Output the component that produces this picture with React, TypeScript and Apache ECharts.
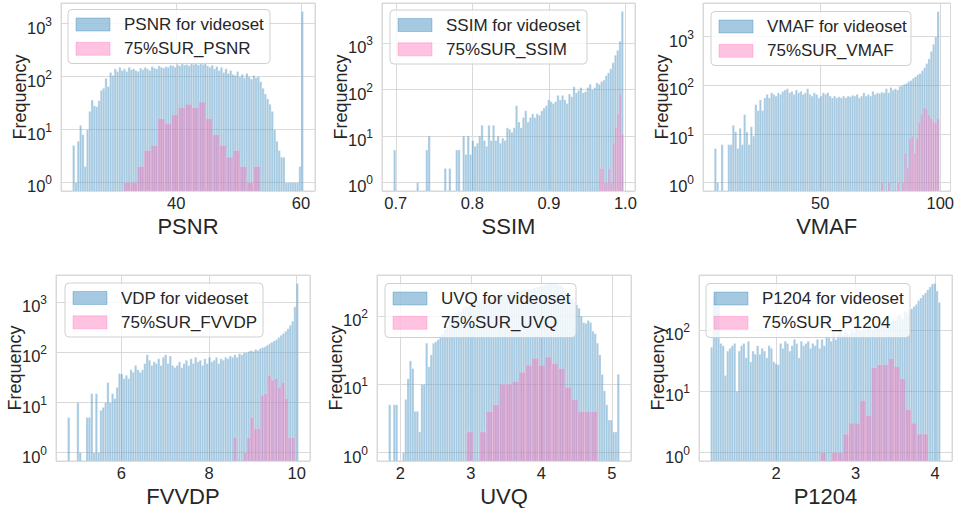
import React, { useEffect, useRef } from 'react';
import * as echarts from 'echarts';

// ---------------- data (histogram counts) ----------------
const PSNR_BLUE_RANGE = [23.4, 60.4];
const PSNR_BLUE = [
  5, 1, 6, 12, 8, 2, 10, 22, 36, 28,
  27, 35, 55, 60, 93, 65, 120, 105, 140, 125,
  150, 130, 140, 125, 150, 135, 140, 130, 125, 145,
  135, 150, 140, 130, 155, 145, 140, 160, 150, 145,
  155, 150, 165, 160, 150, 170, 160, 175, 165, 170,
  160, 175, 170, 180, 165, 175, 170, 180, 160, 150,
  165, 140, 155, 130, 150, 120, 140, 115, 130, 110,
  105, 125, 100, 110, 95, 115, 100, 90, 105, 95,
  100, 80, 60, 47, 38, 30, 22, 10, 6, 4,
  3, 3, 1, 1, 1, 1, 1, 1, 2, 1700,
];
const PSNR_PINK_RANGE = [31.6, 53.5];
const PSNR_PINK = [1, 1, 2, 4, 5, 16, 13, 19, 26, 30, 26, 33, 16, 8, 5, 3, 4, 2, 1, 2];

const SSIM_BLUE_RANGE = [0.697, 0.9975];
const SSIM_BLUE = [
  5, 0, 0, 0, 0, 0, 0, 0, 0, 0,
  1, 0, 0, 0, 5, 10, 0, 0, 0, 0,
  0, 0, 2, 0, 2, 0, 0, 5, 5, 0,
  10, 4, 10, 4, 8, 6, 7, 10, 17, 8,
  6, 17, 8, 17, 8, 10, 7, 9, 8, 15,
  14, 12, 15, 45, 20, 15, 25, 35, 20, 25,
  30, 25, 30, 28, 35, 40, 45, 60, 55, 50,
  55, 75, 60, 75, 60, 50, 80, 70, 115, 85,
  95, 110, 85, 90, 110, 130, 100, 110, 140, 130,
  150, 160, 200, 230, 280, 380, 550, 700, 1100, 4800,
];
const SSIM_PINK_RANGE = [0.9658, 0.9976];
const SSIM_PINK = [2, 2, 1, 1, 2, 1, 7, 15, 30, 80, 11];

const VMAF_BLUE_RANGE = [5.9, 99.6];
const VMAF_BLUE = [
  5, 1, 0, 6, 0, 0, 6, 6, 15, 11,
  5, 13, 6, 25, 11, 6, 14, 9, 40, 30,
  50, 30, 55, 65, 55, 70, 65, 60, 70, 65,
  75, 80, 85, 70, 75, 65, 80, 70, 75, 65,
  70, 85, 65, 60, 70, 65, 55, 60, 70, 65,
  70, 60, 55, 60, 55, 58, 55, 60, 55, 60,
  58, 62, 60, 65, 55, 60, 70, 60, 65, 60,
  75, 65, 70, 68, 72, 70, 85, 70, 90, 80,
  85, 80, 95, 100, 105, 110, 120, 125, 140, 150,
  165, 175, 200, 230, 280, 350, 500, 700, 1000, 3300,
];
const VMAF_PINK_RANGE = [75.3, 99.6];
const VMAF_PINK = [1, 0, 0, 1, 0, 0, 0, 1, 0, 1, 4, 2, 8, 9, 4, 8, 17, 25, 35, 33, 25, 21, 18, 17, 21];

const FVVDP_BLUE_RANGE = [4.77, 10.04];
const FVVDP_BLUE = [
  5, 0, 0, 0, 10, 1, 0, 0, 5, 5,
  15, 1, 15, 1, 7, 8, 10, 25, 10, 15,
  12, 20, 38, 37, 30, 35, 30, 45, 40, 55,
  45, 40, 45, 60, 90, 70, 55, 65, 60, 75,
  55, 80, 90, 60, 85, 55, 50, 55, 65, 50,
  60, 70, 55, 75, 60, 80, 65, 70, 55, 75,
  60, 80, 65, 70, 80, 60, 75, 70, 80, 75,
  85, 80, 90, 80, 95, 90, 100, 100, 105, 110,
  105, 115, 110, 120, 125, 130, 140, 150, 160, 170,
  180, 200, 220, 240, 265, 300, 350, 420, 820, 2400,
];
const FVVDP_PINK_RANGE = [8.55, 9.96];
const FVVDP_PINK = [2, 0, 0, 1, 2, 5, 3, 3, 14, 15, 35, 28, 30, 20, 25, 12, 2, 2];

const UVQ_BLUE_RANGE = [1.831, 5.107];
const UVQ_BLUE = [
  5, 0, 5, 5, 0, 0, 1, 6, 12, 22,
  17, 4, 4, 2, 10, 10, 40, 18, 27, 40,
  42, 45, 50, 55, 65, 70, 90, 80, 100, 110,
  120, 115, 130, 140, 135, 150, 160, 155, 170, 165,
  180, 175, 185, 190, 180, 200, 195, 210, 200, 215,
  220, 210, 230, 225, 235, 230, 240, 235, 245, 240,
  250, 245, 255, 260, 265, 270, 275, 285, 290, 295,
  300, 290, 295, 285, 280, 260, 240, 220, 200, 180,
  160, 145, 130, 100, 80, 78, 86, 80, 60, 55,
  40, 27, 14, 8, 5, 3, 3, 2, 2, 14,
];
const UVQ_PINK_RANGE = [2.938, 4.795];
const UVQ_PINK = [2, 0, 2, 4, 5, 10, 10, 11, 15, 19, 24, 19, 25, 20, 17, 9, 6, 4, 4, 4];

const P1204_BLUE_RANGE = [1.173, 4.069];
const P1204_BLUE = [
  52, 350, 400, 250, 60, 55, 18, 45, 50, 55,
  60, 10, 45, 55, 60, 35, 65, 30, 45, 40,
  55, 40, 50, 45, 35, 55, 50, 30, 28, 27,
  60, 50, 65, 60, 45, 55, 70, 60, 35, 65,
  55, 60, 65, 50, 60, 55, 70, 50, 70, 55,
  80, 75, 65, 90, 70, 85, 110, 80, 95, 90,
  85, 100, 90, 110, 100, 95, 105, 100, 110, 120,
  100, 115, 110, 130, 120, 140, 125, 115, 135, 150,
  140, 170, 180, 150, 200, 190, 210, 220, 240, 260,
  300, 330, 370, 400, 450, 500, 560, 570, 430, 280,
];
const P1204_PINK_RANGE = [2.557, 3.912];
const P1204_PINK = [1, 0, 1, 1, 2, 3, 3, 7, 4, 24, 27, 27, 34, 25, 16, 5, 3, 2, 2];

const METRICS = ['PSNR', 'SSIM', 'VMAF', 'FVVDP', 'UVQ', 'P1204'];
const BLUE_NAMES = ['PSNR for videoset', 'SSIM for videoset', 'VMAF for videoset', 'VDP for videoset', 'UVQ for videoset', 'P1204 for videoset'];
const PINK_NAMES = ['75%SUR_PSNR', '75%SUR_SSIM', '75%SUR_VMAF', '75%SUR_FVVDP', '75%SUR_UVQ', '75%SUR_P1204'];
const X_TICK_STEP = [20, 0.1, 50, 2, 1, 1];
const X_TICK_DECIMALS = [0, 1, 0, 0, 0, 0];
const BLUE_DATA = [PSNR_BLUE, SSIM_BLUE, VMAF_BLUE, FVVDP_BLUE, UVQ_BLUE, P1204_BLUE];
const BLUE_RANGES = [PSNR_BLUE_RANGE, SSIM_BLUE_RANGE, VMAF_BLUE_RANGE, FVVDP_BLUE_RANGE, UVQ_BLUE_RANGE, P1204_BLUE_RANGE];
const PINK_DATA = [PSNR_PINK, SSIM_PINK, VMAF_PINK, FVVDP_PINK, UVQ_PINK, P1204_PINK];
const PINK_RANGES = [PSNR_PINK_RANGE, SSIM_PINK_RANGE, VMAF_PINK_RANGE, FVVDP_PINK_RANGE, UVQ_PINK_RANGE, P1204_PINK_RANGE];

// ---------------- layout & style ----------------
const BOXES = [
  { left: 61, top: 3, width: 254, height: 188 },
  { left: 382, top: 3, width: 253, height: 188 },
  { left: 703, top: 3, width: 249, height: 188 },
  { left: 56, top: 275, width: 254, height: 189 },
  { left: 377, top: 275, width: 254, height: 189 },
  { left: 699, top: 275, width: 253, height: 189 },
];
const LEGEND_BOXES = [
  { x: 68, y: 9.5, w: 202 },
  { x: 390, y: 10, w: 197 },
  { x: 711, y: 11.5, w: 200 },
  { x: 65, y: 283, w: 198 },
  { x: 385, y: 283.5, w: 191 },
  { x: 706, y: 283.5, w: 204 },
];
const LEGEND_H = 54;
const LEGEND_FONT = 17;
const FONT = '"Liberation Sans", Arial, sans-serif';
const TEXT = '#262626';
const GRID_COLOR = '#d9d9d9';
const BLUE = 'rgba(31,119,180,0.4)';
const PINK = 'rgba(255,105,180,0.4)';

function histData(counts: number[], range: number[]) {
  const [lo, hi] = range;
  const n = counts.length;
  const w = (hi - lo) / n;
  const out: number[][] = [];
  counts.forEach((c, i) => {
    if (c > 0) out.push([lo + w * i, lo + w * (i + 1), c]);
  });
  return out;
}

function histSeries(name: string, counts: number[], range: number[], k: number, fill: string, stroke: string) {
  return {
    type: 'custom',
    name,
    xAxisIndex: k,
    yAxisIndex: k,
    z: 2,
    dimensions: ['x0', 'x1', 'count'],
    encode: { x: [0, 1], y: 2 },
    itemStyle: { color: fill },
    data: histData(counts, range),
    renderItem: (params: any, api: any) => {
      const x0 = api.value(0);
      const x1 = api.value(1);
      const c = api.value(2);
      const p0 = api.coord([x0, c]);
      const p1 = api.coord([x1, c]);
      const cs = params.coordSys;
      const bottom = cs.y + cs.height;
      return {
        type: 'rect',
        shape: { x: p0[0], y: p0[1], width: p1[0] - p0[0], height: bottom - p0[1] },
        style: { fill, stroke, lineWidth: 0.5 },
      };
    },
  };
}

function legendGraphic(k: number) {
  const lb = LEGEND_BOXES[k];
  const rowY = [15, 39.3];
  const names = [BLUE_NAMES[k], PINK_NAMES[k]];
  const fills = [BLUE, PINK];
  const children: any[] = [
    {
      type: 'rect',
      z: 100,
      shape: { x: 0, y: 0, width: lb.w, height: LEGEND_H, r: 4 },
      style: { fill: 'rgba(255,255,255,0.8)', stroke: '#d0d0d0', lineWidth: 1 },
    },
  ];
  names.forEach((nm, j) => {
    children.push({
      type: 'rect',
      z: 101,
      shape: { x: 8, y: rowY[j] - 6.5, width: 34, height: 13 },
      style: { fill: fills[j], stroke: fills[j], lineWidth: 0.8 },
    });
    children.push({
      type: 'text',
      z: 101,
      x: 56,
      y: rowY[j],
      style: { text: nm, fill: TEXT, fontFamily: FONT, fontSize: LEGEND_FONT, verticalAlign: 'middle', align: 'left' },
    });
  });
  return { type: 'group', x: lb.x, y: lb.y, z: 100, silent: true, children };
}

function buildOption() {
  const grid: any[] = [];
  const xAxis: any[] = [];
  const yAxis: any[] = [];
  const series: any[] = [];
  const graphic: any[] = [];
  METRICS.forEach((metric, k) => {
    const box = BOXES[k];
    grid.push({ ...box, show: true, borderColor: GRID_COLOR, borderWidth: 1, backgroundColor: '#ffffff', containLabel: false });
    const [lo, hi] = BLUE_RANGES[k];
    const pad = (hi - lo) * 0.05;
    const step = X_TICK_STEP[k];
    const dec = X_TICK_DECIMALS[k];
    xAxis.push({
      type: 'value',
      gridIndex: k,
      min: lo - pad,
      max: hi + pad,
      minInterval: step,
      maxInterval: step,
      name: metric,
      nameLocation: 'middle',
      nameGap: 24,
      nameMoveOverlap: false,
      nameTextStyle: { fontFamily: FONT, fontSize: 22, lineHeight: 22, color: TEXT },
      axisLine: { show: false },
      axisTick: { show: false },
      axisLabel: {
        fontFamily: FONT,
        fontSize: 16.5,
        lineHeight: 15,
        color: TEXT,
        margin: 4,
        formatter: (v: number) => {
          const r = v / step;
          return Math.abs(r - Math.round(r)) < 1e-6 ? v.toFixed(dec) : '';
        },
      },
      splitLine: { show: true, lineStyle: { color: GRID_COLOR, width: 1 } },
    });
    const maxC = Math.max(...BLUE_DATA[k], ...PINK_DATA[k]);
    const L = Math.log10(maxC);
    yAxis.push({
      type: 'log',
      logBase: 10,
      gridIndex: k,
      min: Math.pow(10, -0.05 * L),
      max: Math.pow(10, 1.05 * L),
      name: 'Frequency',
      nameLocation: 'middle',
      nameGap: 32,
      nameMoveOverlap: false,
      nameTextStyle: { fontFamily: FONT, fontSize: 18, color: TEXT },
      axisLine: { show: false },
      axisTick: { show: false },
      minorTick: { show: false },
      axisLabel: {
        margin: 9,
        formatter: (v: number) => {
          const l = Math.log10(v);
          const r = Math.round(l);
          if (Math.abs(l - r) > 1e-6) return '';
          return `{b|10}{s|${r}}`;
        },
        rich: {
          b: { fontFamily: FONT, fontSize: 16.5, color: TEXT, lineHeight: 14, padding: [8, 0, 0, 0] },
          s: { fontFamily: FONT, fontSize: 12, color: TEXT, lineHeight: 16, verticalAlign: 'top' },
        },
      },
      splitLine: { show: true, lineStyle: { color: GRID_COLOR, width: 1 } },
    });
    series.push(histSeries(BLUE_NAMES[k], BLUE_DATA[k], BLUE_RANGES[k], k, BLUE, 'rgba(255,255,255,0.55)'));
    series.push(histSeries(PINK_NAMES[k], PINK_DATA[k], PINK_RANGES[k], k, PINK, 'rgba(255,255,255,0.3)'));
    graphic.push(legendGraphic(k));
  });
  return {
    animation: false,
    backgroundColor: '#ffffff',
    grid,
    xAxis,
    yAxis,
    series,
    graphic,
  };
}

export default function App() {
  const ref = useRef<HTMLDivElement>(null);
  useEffect(() => {
    document.body.style.margin = '0';
    if (!ref.current) return;
    const chart = echarts.init(ref.current, undefined, { renderer: 'svg' });
    chart.setOption(buildOption() as any);
    return () => chart.dispose();
  }, []);
  return <div ref={ref} style={{ width: 957, height: 508 }} />;
}
